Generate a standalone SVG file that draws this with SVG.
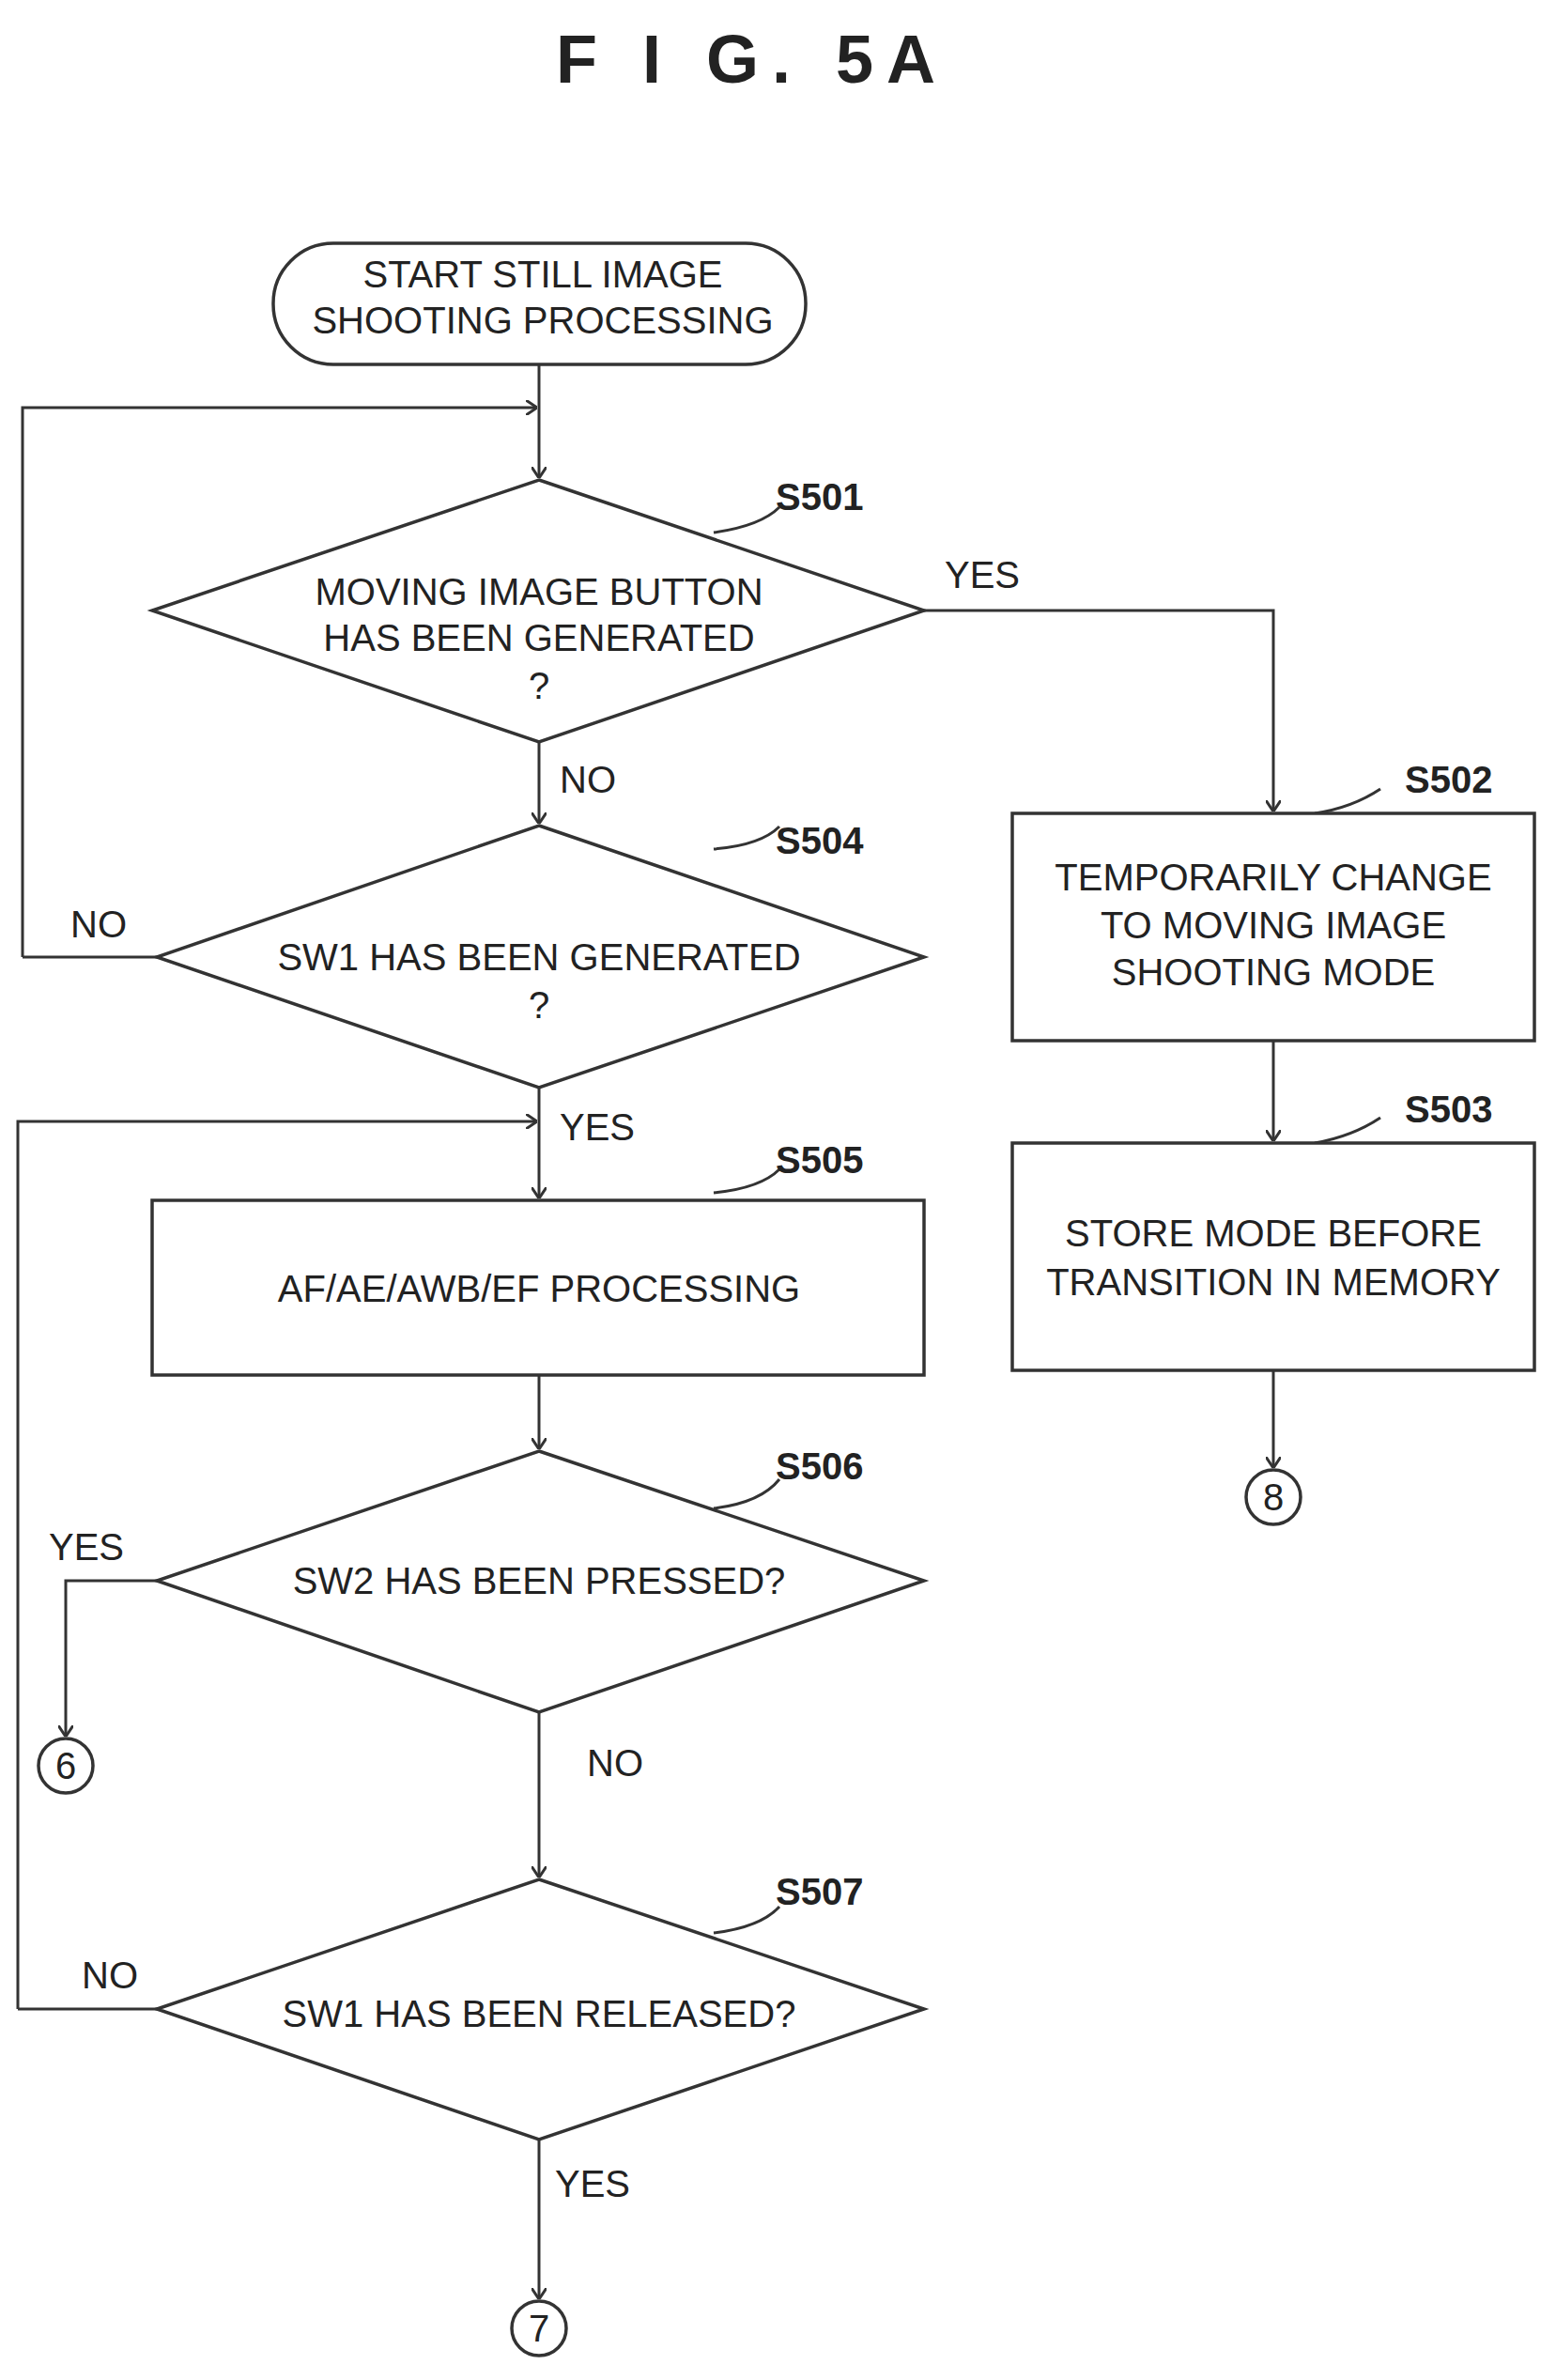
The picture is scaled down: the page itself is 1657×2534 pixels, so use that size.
<svg xmlns="http://www.w3.org/2000/svg" width="1657" height="2534" viewBox="0 0 1657 2534">
<style>
.s{fill:none;stroke:#333;stroke-width:3}
.n{fill:#fff;stroke:#333;stroke-width:3.5}
text{font-family:"Liberation Sans",Arial,sans-serif;fill:#222;font-size:40px;text-anchor:middle}
.l{font-weight:bold;font-size:40px;text-anchor:start}
.t{font-weight:bold;font-size:72px;letter-spacing:14px}
</style>
<defs><marker id="a" markerWidth="12" markerHeight="16" refX="11" refY="8" orient="auto" markerUnits="userSpaceOnUse"><path d="M0,0 L12,8 L0,16" fill="none" stroke="#333" stroke-width="3"/></marker></defs>
<rect width="1657" height="2534" fill="#fff"/>
<text class="t" x="801" y="88">F I G.  5A</text>
<g id="connectors">
<path class="s" d="M574,388 V508" marker-end="url(#a)"/>
<path class="s" d="M24,1019 H167 M24,1019 V434 H571" marker-end="url(#a)"/>
<path class="s" d="M984,650 H1356 V863" marker-end="url(#a)"/>
<path class="s" d="M1356,1108 V1214" marker-end="url(#a)"/>
<path class="s" d="M1356,1459 V1562" marker-end="url(#a)"/>
<path class="s" d="M574,790 V876" marker-end="url(#a)"/>
<path class="s" d="M574,1158 V1275" marker-end="url(#a)"/>
<path class="s" d="M19,2139 H167 M19,2139 V1194 H571" marker-end="url(#a)"/>
<path class="s" d="M574,1464 V1542" marker-end="url(#a)"/>
<path class="s" d="M167,1683 H70 V1848" marker-end="url(#a)"/>
<path class="s" d="M574,1823 V1998" marker-end="url(#a)"/>
<path class="s" d="M574,2278 V2447" marker-end="url(#a)"/>
<path class="s" d="M760,567 Q810,560 830,540 M760,904 Q810,900 830,880 M760,1606 Q810,1600 830,1575 M760,2058 Q810,2052 830,2030 M760,1270 Q810,1265 830,1245 M1400,866 Q1440,860 1470,840 M1400,1217 Q1440,1210 1470,1190"/>
</g>
<g id="start"><rect class="n" x="291" y="259" width="567" height="129" rx="64"/><text x="578" y="306">START STILL IMAGE</text><text x="578" y="355">SHOOTING PROCESSING</text></g>
<g id="S501"><path class="n" d="M574,511 L984,650 L574,790 L162,650 Z"/><text x="574" y="644">MOVING IMAGE BUTTON</text><text x="574" y="693">HAS BEEN GENERATED</text><text x="574" y="744">?</text><text class="l" x="826" y="543">S501</text><text x="1046" y="626">YES</text><text x="626" y="844">NO</text></g>
<g id="S502"><rect class="n" x="1078" y="866" width="556" height="242"/><text x="1356" y="948">TEMPORARILY CHANGE</text><text x="1356" y="999">TO MOVING IMAGE</text><text x="1356" y="1049">SHOOTING MODE</text><text class="l" x="1496" y="844">S502</text></g>
<g id="S503"><rect class="n" x="1078" y="1217" width="556" height="242"/><text x="1356" y="1327">STORE MODE BEFORE</text><text x="1356" y="1379">TRANSITION IN MEMORY</text><text class="l" x="1496" y="1195">S503</text></g>
<g id="c8"><circle class="n" cx="1356" cy="1594" r="29"/><text x="1356" y="1608">8</text></g>
<g id="S504"><path class="n" d="M574,879 L984,1019 L574,1158 L167,1019 Z"/><text x="574" y="1033">SW1 HAS BEEN GENERATED</text><text x="574" y="1084">?</text><text class="l" x="826" y="909">S504</text><text x="105" y="998">NO</text><text x="636" y="1214">YES</text></g>
<g id="S505"><rect class="n" x="162" y="1278" width="822" height="186"/><text x="574" y="1386">AF/AE/AWB/EF PROCESSING</text><text class="l" x="826" y="1249">S505</text></g>
<g id="S506"><path class="n" d="M574,1545 L984,1683 L574,1823 L167,1683 Z"/><text x="574" y="1697">SW2 HAS BEEN PRESSED?</text><text class="l" x="826" y="1575">S506</text><text x="92" y="1661">YES</text><text x="655" y="1891">NO</text></g>
<g id="c6"><circle class="n" cx="70" cy="1880" r="29"/><text x="70" y="1894">6</text></g>
<g id="S507"><path class="n" d="M574,2001 L984,2139 L574,2278 L167,2139 Z"/><text x="574" y="2158">SW1 HAS BEEN RELEASED?</text><text class="l" x="826" y="2028">S507</text><text x="117" y="2117">NO</text><text x="631" y="2339">YES</text></g>
<g id="c7"><circle class="n" cx="574" cy="2479" r="29"/><text x="574" y="2493">7</text></g>
</svg>
